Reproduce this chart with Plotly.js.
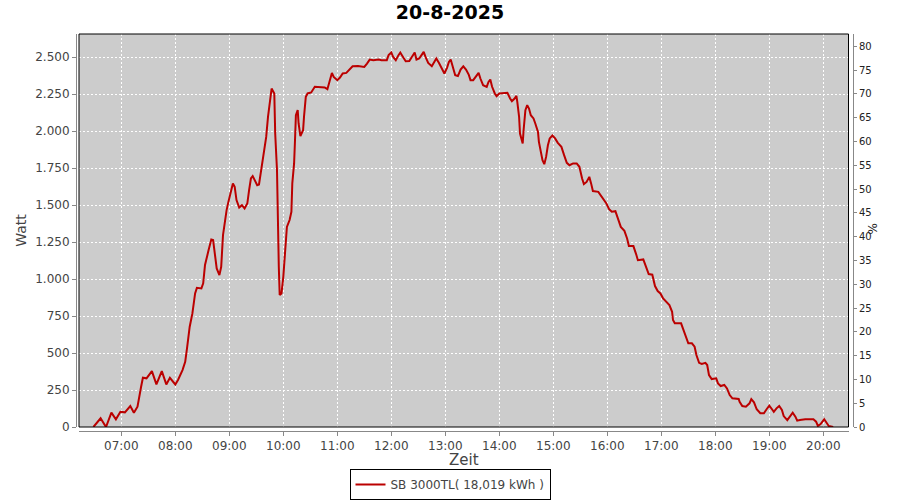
<!DOCTYPE html>
<html>
<head>
<meta charset="utf-8">
<script src="https://cdn.plot.ly/plotly-3.0.1.min.js"></script>
<style>html,body{margin:0;padding:0;background:#fff;}#chart{width:900px;height:500px;}</style>
</head>
<body>
<div id="chart"></div>
<script>
const day = '2025-08-20';
const chartTitle = '20-8-2025';
const seriesName = 'SB 3000TL( 18,019 kWh )';
const times = [
'06:29','06:37','06:43','06:49','06:54','06:59','07:04','07:10','07:14','07:18','07:22','07:24','07:28','07:34','07:39','07:45','07:50','07:54','08:00','08:03','08:08','08:11','08:13','08:16','08:19','08:22','08:24','08:29','08:31','08:33','08:37','08:40','08:42','08:44','08:46','08:49','08:51','08:53','08:55','08:57','08:59','09:02','09:04','09:06','09:08','09:11','09:14','09:17','09:20','09:22','09:24','09:26','09:29','09:31','09:33','09:36','09:39','09:41','09:43','09:46','09:47','09:50','09:51','09:53','09:54','09:55','09:56','09:58','10:00','10:02','10:04','10:07','10:09','10:10','10:12','10:13','10:14','10:16','10:17','10:19','10:22','10:23','10:25','10:27','10:31','10:35','10:41','10:46','10:49','10:51','10:54','10:56','11:00','11:03','11:06','11:10','11:14','11:17','11:23','11:30','11:33','11:36','11:40','11:46','11:49','11:55','11:57','12:00','12:02','12:05','12:08','12:10','12:13','12:16','12:20','12:23','12:26','12:28','12:31','12:33','12:36','12:38','12:41','12:45','12:48','12:50','12:53','12:56','12:59','13:02','13:04','13:06','13:08','13:11','13:14','13:17','13:20','13:23','13:26','13:28','13:31','13:34','13:37','13:39','13:42','13:46','13:48','13:50','13:52','13:55','13:57','14:00','14:04','14:09','14:12','14:14','14:17','14:19','14:20','14:22','14:23','14:25','14:26','14:27','14:29','14:31','14:33','14:35','14:38','14:40','14:43','14:44','14:46','14:48','14:50','14:52','14:54','14:56','14:59','15:02','15:05','15:09','15:12','15:15','15:18','15:22','15:26','15:29','15:32','15:34','15:37','15:40','15:42','15:44','15:50','15:53','15:56','15:59','16:02','16:05','16:09','16:12','16:15','16:19','16:22','16:24','16:29','16:32','16:34','16:40','16:43','16:46','16:50','16:53','16:56','16:59','17:02','17:06','17:09','17:12','17:13','17:15','17:22','17:24','17:27','17:30','17:34','17:37','17:39','17:42','17:45','17:49','17:51','17:53','17:56','18:01','18:03','18:06','18:10','18:13','18:16','18:19','18:26','18:27','18:30','18:34','18:38','18:40','18:43','18:46','18:50','18:54','18:57','19:00','19:03','19:05','19:08','19:11','19:14','19:16','19:20','19:23','19:26','19:29','19:31','19:34','19:40','19:49','19:52','19:54','19:57','20:01','20:04','20:06','20:11'
];
const watt = [
0,59,0,97,52,103,99,142,97,137,272,333,329,378,288,378,288,333,288,318,385,441,532,678,768,903,941,937,971,1095,1196,1268,1264,1174,1072,1027,1083,1297,1399,1466,1522,1601,1647,1624,1534,1484,1500,1478,1511,1601,1680,1696,1657,1635,1640,1759,1872,1961,2097,2232,2288,2255,1984,1736,1241,1083,892,903,1015,1174,1353,1399,1455,1647,1782,1939,2108,2142,2052,1966,2007,2097,2232,2255,2262,2300,2300,2296,2284,2322,2394,2367,2345,2363,2390,2394,2417,2439,2441,2434,2457,2484,2480,2484,2480,2480,2514,2532,2502,2480,2514,2532,2502,2473,2475,2507,2532,2484,2491,2509,2536,2502,2461,2439,2468,2491,2461,2423,2390,2430,2468,2484,2434,2378,2373,2417,2439,2417,2383,2345,2345,2373,2394,2356,2311,2300,2333,2349,2300,2255,2237,2255,2255,2259,2221,2203,2221,2239,2198,2097,1984,1928,1917,2007,2142,2176,2153,2108,2086,2052,1995,1928,1860,1804,1777,1826,1905,1951,1971,1951,1921,1894,1838,1786,1770,1782,1782,1759,1680,1642,1657,1691,1647,1595,1590,1563,1529,1511,1473,1455,1459,1410,1353,1326,1275,1223,1223,1169,1128,1133,1079,1034,1030,953,919,903,870,847,824,779,723,701,701,667,610,566,566,543,487,434,426,434,419,351,324,329,295,277,284,261,216,194,189,171,142,137,160,189,167,120,93,93,120,144,120,103,126,142,115,74,47,70,97,70,43,47,52,52,36,7,20,52,29,7,0
];
const xTickTimes = ['07:00','08:00','09:00','10:00','11:00','12:00','13:00','14:00','15:00','16:00','17:00','18:00','19:00','20:00'];
const wattTicks = [0,250,500,750,1000,1250,1500,1750,2000,2250,2500];
const wattTickText = ['0','250','500','750','1.000','1.250','1.500','1.750','2.000','2.250','2.500'];
const pctTicks = [0,5,10,15,20,25,30,35,40,45,50,55,60,65,70,75,80];
const pctTitle = '%';

const stamp = t => day + ' ' + t;
const xs = times.map(stamp);

const lineColor = '#bb0000';
const tickFont = {family: 'DejaVu Sans, sans-serif', size: 12, color: '#444444'};

const traces = [
  {x: xs, y: watt, type: 'scatter', mode: 'lines', name: seriesName,
   line: {color: lineColor, width: 2}, xaxis: 'x', yaxis: 'y', hoverinfo: 'x+y'},
  {x: xs.slice(0, 1), y: [null], type: 'scatter', mode: 'lines', yaxis: 'y2',
   showlegend: false, hoverinfo: 'skip'}
];

const layout = {
  width: 900, height: 500,
  margin: {l: 76, r: 47, t: 34, b: 69, pad: 0},
  paper_bgcolor: '#ffffff',
  plot_bgcolor: '#cccccc',
  separators: ',.',
  title: {text: chartTitle, x: 0.5, xref: 'container', xanchor: 'center',
          y: 1 - 12.5/500, yref: 'container', yanchor: 'middle',
          font: {family: 'DejaVu Sans, sans-serif', size: 19, color: '#000000', weight: 'bold'}},
  showlegend: true,
  legend: {orientation: 'h', xref: 'container', yref: 'container',
           x: 0.5, xanchor: 'center', y: 1 - 484.5/500, yanchor: 'middle',
           itemwidth: 30,
           bordercolor: '#000000', borderwidth: 1, bgcolor: '#ffffff',
           font: {family: 'DejaVu Sans, sans-serif', size: 12, color: '#444444'}},
  xaxis: {
    type: 'date', domain: [3/777, 772.5/777], anchor: 'free', position: 0,
    range: [stamp('06:13'), stamp('20:28')], automargin: false,
    tickvals: xTickTimes.map(stamp), ticktext: xTickTimes,
    showgrid: true, gridcolor: '#ffffff', gridwidth: 1, griddash: '2px,2px',
    showline: true, linecolor: '#888888', linewidth: 1,
    ticks: 'outside', ticklen: 4, tickcolor: '#888888', tickfont: tickFont,
    zeroline: false,
    title: {text: 'Zeit', standoff: 4, font: {family: 'DejaVu Sans, sans-serif', size: 15, color: '#444444'}}
  },
  yaxis: {
    domain: [4/397, 1], anchor: 'free', position: 0,
    range: [0, 2657], automargin: false,
    tickvals: wattTicks, ticktext: wattTickText,
    showgrid: true, gridcolor: '#ffffff', gridwidth: 1, griddash: '2px,2px',
    showline: true, linecolor: '#888888', linewidth: 1,
    ticks: 'outside', ticklen: 4, tickcolor: '#888888', tickfont: tickFont,
    zeroline: false,
    title: {text: 'Watt', standoff: 4, font: {family: 'DejaVu Sans, sans-serif', size: 14, color: '#444444'}}
  },
  yaxis2: {
    overlaying: 'y', side: 'right', anchor: 'free', position: 1,
    range: [0, 82.6], automargin: false,
    tickvals: pctTicks, ticktext: pctTicks.map(String),
    showgrid: false, zeroline: false,
    showline: true, linecolor: '#888888', linewidth: 1,
    ticks: 'outside', ticklen: 3, tickcolor: '#888888',
    tickfont: {family: 'DejaVu Sans, sans-serif', size: 10, color: '#222222'}
  },
  annotations: [
    {text: pctTitle, xref: 'paper', yref: 'paper', x: (872 - 76) / 777, y: (431 - 229.5) / 397,
     xanchor: 'center', yanchor: 'middle', textangle: -90, showarrow: false,
     font: {family: 'DejaVu Sans, sans-serif', size: 12, color: '#222222'}}
  ],
  shapes: [
    {type: 'rect', xref: 'x domain', yref: 'y domain', x0: 0, x1: 1, y0: 0, y1: 1,
     line: {color: '#000000', width: 1}, fillcolor: 'rgba(0,0,0,0)', layer: 'above'}
  ]
};

Plotly.newPlot('chart', traces, layout, {staticPlot: true, displayModeBar: false});
</script>
</body>
</html>
